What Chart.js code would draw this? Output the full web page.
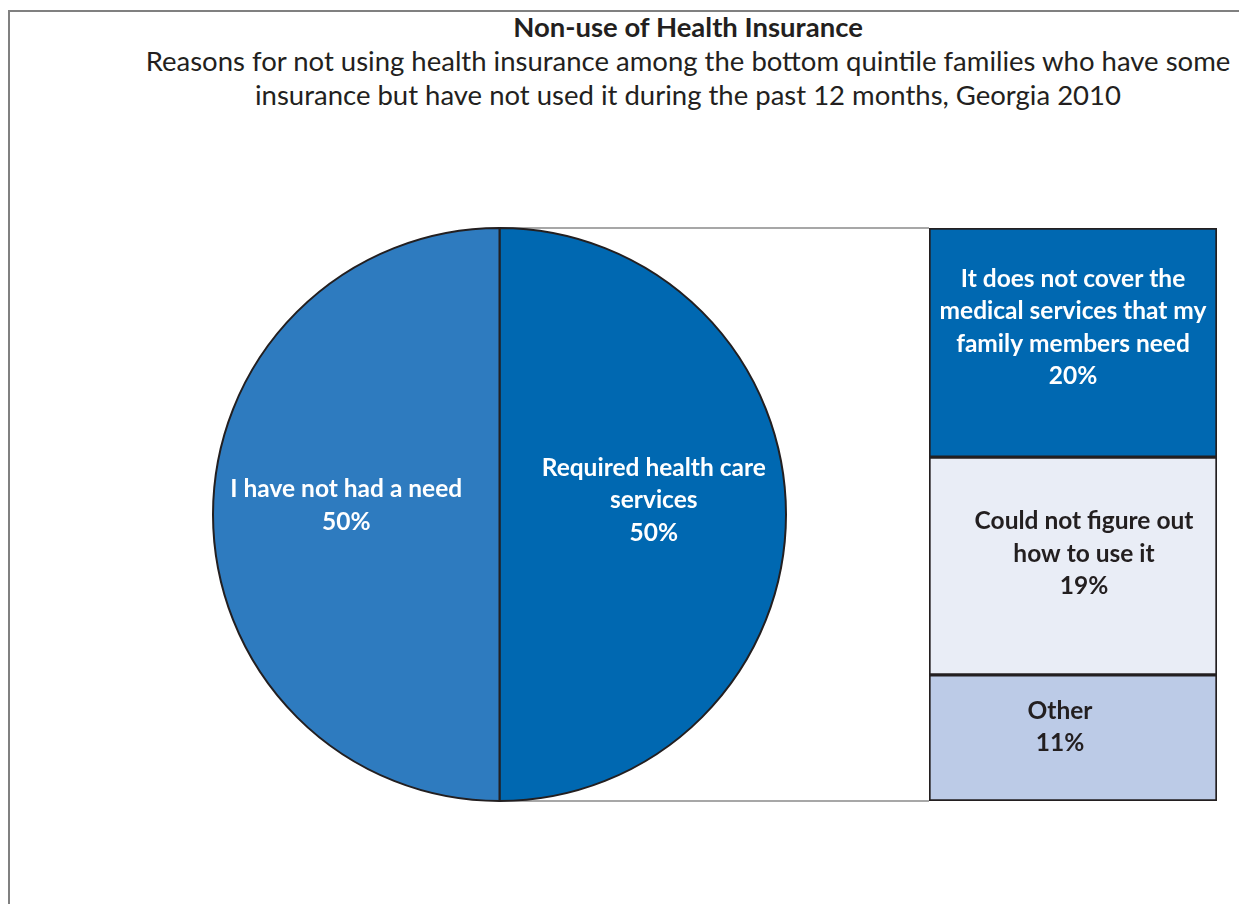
<!DOCTYPE html>
<html>
<head>
<meta charset="utf-8">
<title>Non-use of Health Insurance</title>
<script src="https://cdn.jsdelivr.net/npm/chart.js@4.4.1/dist/chart.umd.min.js"></script>
<style>
    html, body { margin: 0; padding: 0; background: #fff; }
    body { position: relative; width: 1239px; height: 904px; overflow: hidden; font-family: Lato, "Open Sans", sans-serif; color: #231f20; }
    #frame { position: absolute; left: 8px; top: 10px; width: 1400px; height: 1000px; border-left: 2px solid #808080; border-top: 2px solid #808080; }
    #heading { position: absolute; left: 0; top: 10px; width: 1376px; text-align: center; }
    #heading .main { font-weight: 700; font-size: 27.5px; line-height: 34px; }
    #heading .sub { font-size: 27.5px; line-height: 34px; }
    canvas { position: absolute; left: 0; top: 0; }
</style>
</head>
<body>
<div id="frame"></div>
<div id="heading">
    <div class="main">Non-use of Health Insurance</div>
    <div class="sub">Reasons for not using health insurance among the bottom quintile families who have some<br>insurance but have not used it during the past 12 months, Georgia 2010</div>
</div>
<canvas id="barCanvas" width="1239" height="904"></canvas>
<canvas id="pieCanvas" width="1239" height="904"></canvas>
<script>
"use strict";

// Main split: who used their insurance
const pieLabels = [["Required health care", "services"], ["I have not had a need"]];
const pieValues = [50, 50];
const pieColors = ["#0068b1", "#2e7bbf"];

// Breakdown of the "Required health care services" half, bottom to top
const barLabels = [["Other"], ["Could not figure out", "how to use it"], ["It does not cover the", "medical services that my", "family members need"]];
const barValues = [11, 19, 20];
const barColors = ["#bccbe7", "#e9edf6", "#0068b1"];
const barTextColors = ["#231f20", "#231f20", "#ffffff"];

const LABEL_FONT = "bold 24.5px Lato, 'Open Sans', sans-serif";
const LINE_HEIGHT = 32.5;

// writes the label lines plus the value centred on each element
function drawBlock(ctx, lines, x, y, color)
{
    ctx.save();
    ctx.font         = LABEL_FONT;
    ctx.fillStyle    = color;
    ctx.textAlign    = "center";
    ctx.textBaseline = "middle";
    const top = y - (lines.length - 1) * LINE_HEIGHT / 2;
    lines.forEach((line, i) => ctx.fillText(line, x, top + i * LINE_HEIGHT));
    ctx.restore();
}

const barLabelPlugin = {
    id: "barLabels",
    afterDatasetsDraw(chart)
    {
        chart.data.datasets.forEach((ds, di) =>
        {
            const el = chart.getDatasetMeta(di).data[0];
            const c  = el.getCenterPoint();
            const lines = ds.textLines.concat([ds.data[0] + "%"]);
            drawBlock(chart.ctx, lines, c.x + ds.textShift[0], c.y + ds.textShift[1], ds.textColor);
        });
    }
};

const barChart = new Chart(document.getElementById("barCanvas").getContext("2d"), {
    type:    "bar",
    data:    {
        labels:   ["Required health care services"],
        datasets: barValues.map((v, i) => ({
            label:           barLabels[i].join(" "),
            data:            [v],
            backgroundColor: barColors[i],
            borderColor:     "#231f20",
            borderWidth:     2,
            borderSkipped:   false,
            barPercentage:      1,
            categoryPercentage: 1,
            textLines:       barLabels[i],
            textColor:       barTextColors[i],
            textShift:       [[-13, -11], [11, -12], [0, -15]][i]
        }))
    },
    options: {
        responsive: false,
        animation:  false,
        layout:     {
            padding: {left: 929, right: 22, top: 228, bottom: 103}
        },
        scales:     {
            x: {display: false, stacked: true},
            y: {display: false, stacked: true, min: 0, max: 50}
        },
        plugins:    {
            legend:  {display: false},
            tooltip: {enabled: false}
        }
    },
    plugins: [barLabelPlugin]
});

// connector lines from the top and bottom of the pie to the breakdown bar
const connectorPlugin = {
    id: "connectors",
    beforeDatasetsDraw(chart)
    {
        const arc  = chart.getDatasetMeta(0).data[0];
        const area = barChart.chartArea;
        const ctx  = chart.ctx;
        ctx.save();
        ctx.strokeStyle = "#8a8a8a";
        ctx.lineWidth   = 1.5;
        ctx.beginPath();
        ctx.moveTo(arc.x, arc.y - arc.outerRadius);
        ctx.lineTo(area.left, area.top);
        ctx.moveTo(arc.x, arc.y + arc.outerRadius);
        ctx.lineTo(area.left, area.bottom);
        ctx.stroke();
        ctx.restore();
    }
};

const pieLabelPlugin = {
    id: "pieLabels",
    afterDatasetsDraw(chart)
    {
        const meta = chart.getDatasetMeta(0);
        const shifts = [[11, -14], [-10, -9]];
        meta.data.forEach((el, i) =>
        {
            const c = el.getCenterPoint();
            const lines = pieLabels[i].concat([pieValues[i] + "%"]);
            drawBlock(chart.ctx, lines, c.x + shifts[i][0], c.y + shifts[i][1], "#ffffff");
        });
    }
};

new Chart(document.getElementById("pieCanvas").getContext("2d"), {
    type:    "pie",
    data:    {
        labels:   pieLabels.map(l => l.join(" ")),
        datasets: [
            {
                data:            pieValues,
                backgroundColor: pieColors,
                borderColor:     "#231f20",
                borderWidth:     2
            }
        ]
    },
    options: {
        responsive: false,
        animation:  false,
        layout:     {
            padding: {left: 212, right: 452, top: 227, bottom: 102}
        },
        plugins:    {
            legend:  {display: false},
            tooltip: {enabled: false}
        }
    },
    plugins: [connectorPlugin, pieLabelPlugin]
});
</script>
</body>
</html>
